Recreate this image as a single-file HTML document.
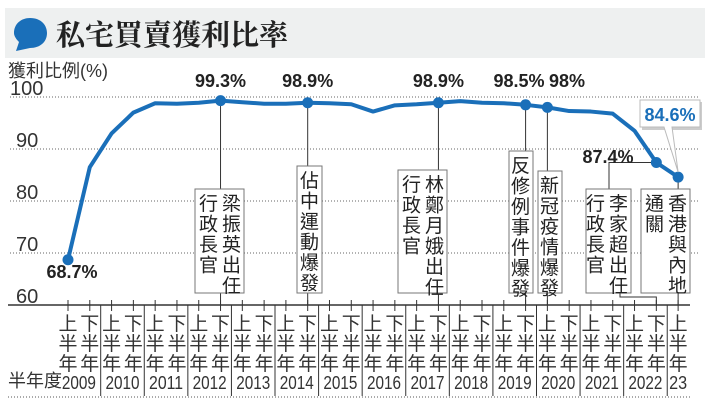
<!DOCTYPE html>
<html><head><meta charset="utf-8">
<style>
body{margin:0;background:#fff;}
svg text{font-family:"Liberation Sans","Noto Sans CJK TC",sans-serif;}
</style></head>
<body>
<svg id="chart" width="705" height="402" viewBox="0 0 705 402" xmlns="http://www.w3.org/2000/svg">
<rect x="5" y="8" width="700" height="50" fill="#eef0f0"/>
<path d="M30 18 C42 18 47 26 47 33 C47 42 40 48 30 48 L16 51 L19 42 C15 38 14 35 14 33 C14 24 21 18 30 18Z" fill="#1a6fb9"/>
<text x="56" y="45" font-size="29" font-weight="bold" fill="#222" style="font-family:'Liberation Serif','Noto Serif CJK SC',serif">私宅買賣獲利比率</text>
<text x="8" y="77" font-size="18" fill="#333">獲利比例(%)</text>
<g id="grid"></g>
<g id="xaxis"></g>
<g id="annots"></g>
<g id="series"></g>
<text x="8" y="387" font-size="18" fill="#333">半年度</text>
<line x1="8" y1="397" x2="690" y2="397" stroke="#555" stroke-dasharray="1,2"/>
</svg>
<script>
const categories=["2009H1","2009H2","2010H1","2010H2","2011H1","2011H2","2012H1","2012H2","2013H1","2013H2","2014H1","2014H2","2015H1","2015H2","2016H1","2016H2","2017H1","2017H2","2018H1","2018H2","2019H1","2019H2","2020H1","2020H2","2021H1","2021H2","2022H1","2022H2","2023H1"];
const values=[68.7,86.5,93,97,98.8,98.7,98.9,99.3,99.0,98.7,98.7,98.9,98.8,98.6,97.2,98.4,98.6,98.9,99.2,98.9,98.8,98.5,98.0,97.3,97.2,96.8,93.5,87.4,84.6];
const years=["2009","2010","2011","2012","2013","2014","2015","2016","2017","2018","2019","2020","2021","2022","23"];
const yTicks=[60,70,80,90,100];
const NS="http://www.w3.org/2000/svg";
const X=i=>68+i*21.79;
const Y=v=>305-(v-60)*5.2;
function mk(tag,attrs,parent,txt){const e=document.createElementNS(NS,tag);for(const k in attrs)e.setAttribute(k,attrs[k]);if(txt!==undefined)e.textContent=txt;parent.appendChild(e);return e;}
const grid=document.getElementById('grid'),xa=document.getElementById('xaxis'),an=document.getElementById('annots'),se=document.getElementById('series');
yTicks.forEach(t=>{
  const l=t===60?mk('line',{x1:8,y1:Y(t),x2:690,y2:Y(t),stroke:'#333','stroke-width':1.5},grid):mk('line',{x1:10,y1:Y(t),x2:700,y2:Y(t),stroke:'#666','stroke-dasharray':'1,2'},grid);
  
  
  const tx=mk('text',{x:t===100?10:16,y:Y(t)-2,'font-size':20,fill:'#333'},grid,String(t));
  
  
});
categories.forEach((c,i)=>{
  const x=X(i);
  const tk=mk('line',{x1:x,y1:300,x2:x,y2:311,stroke:'#333'},xa);
  
  
  const h=i%2===0?'上':'下';
  ['',h,'半','年'].forEach((ch,k)=>{if(!k)return;const t=mk('text',{x:x,y:310+k*20,'font-size':19,'text-anchor':'middle',fill:'#333'},xa,ch);
    
    });
});
years.forEach((y,j)=>{
  const cx=j<14?(X(2*j)+X(2*j+1))/2:X(28);
  const t=mk('text',{x:cx,y:389,'font-size':18,'text-anchor':'middle',fill:'#333',textLength:j<14?34:18,lengthAdjust:'spacingAndGlyphs'},xa,y);
  
  
  if(j<14){const s=mk('line',{x1:X(2*j+1)+10.9,y1:305,x2:X(2*j+1)+10.9,y2:396,stroke:'#333'},xa);
    
    }
});
const notes=[[7,195,189,49,["梁振英出任","行政長官"]],[11,297,166,25,["佔中運動爆發"]],[17,398,170,49,["林鄭月娥出任","行政長官"]],[21,509,151,24,["反修例事件爆發"]],[22,538,171,24,["新冠疫情爆發"]],[27,586,189,45,["李家超出任","行政長官"]],[28,641,189,49,["香港與內地","通關"]]];
notes.forEach(([i,bx,by,bw,cols])=>{
  const x=X(i),g=mk('g',{},an);
  
  
  if(i===27){mk('polyline',{points:`${x},${Y(values[i])} 609,${Y(values[i])} 609,${by}`,fill:'none',stroke:'#333'},g);
    mk('polyline',{points:`620,293 620,297 ${x},297 ${x},305`,fill:'none',stroke:'#333'},g);}
  else{mk('line',{x1:x,y1:Y(values[i]),x2:x,y2:305,stroke:'#333'},g);}
  mk('rect',{x:bx,y:by,width:bw,height:293-by,fill:'#fff',stroke:'#777'},g);
  cols.forEach((s,k)=>{[...s].forEach((ch,m)=>{mk('text',{x:bx+bw-12.5-k*23,y:by+21+m*20.5,'font-size':19,'text-anchor':'middle',fill:'#222'},g,ch);});});
});
const pts=values.map((v,i)=>X(i)+','+Y(v)).join(' ');
const pl=mk('polyline',{points:pts,fill:'none',stroke:'#1a6fb9','stroke-width':4,'stroke-linejoin':'round'},se);


const labeled=[[0,"68.7%",72,Y(68.7)+18],[7,"99.3%",X(7),87],[11,"98.9%",X(11),87],[17,"98.9%",X(17),87],[21,"98.5%",519,87],[22,"98%",567,87],[27,"87.4%",608,163]];
[0,7,11,17,21,22,27,28].forEach(i=>{const d=mk('circle',{cx:X(i),cy:Y(values[i]),r:5.5,fill:'#1a6fb9'},se);
  
  });
labeled.forEach(([i,t,x,y])=>{const e=mk('text',{x:x,y:y,'font-size':18,'font-weight':'bold','text-anchor':'middle',fill:'#222'},se,t);
  
  });
const cg=mk('g',{},se);


mk('rect',{x:642,y:102,width:60,height:28,fill:'#ccc'},cg);
mk('path',{d:`M640 100 L700 100 L700 127 L672 127 L${X(28)} ${Y(84.6)-5} L664 127 L640 127 Z`,fill:'#fff',stroke:'#bbb'},cg);
mk('text',{x:670,y:121,'font-size':18,'font-weight':'bold','text-anchor':'middle',fill:'#1a6fb9'},cg,"84.6%");
</script>
</body></html>
